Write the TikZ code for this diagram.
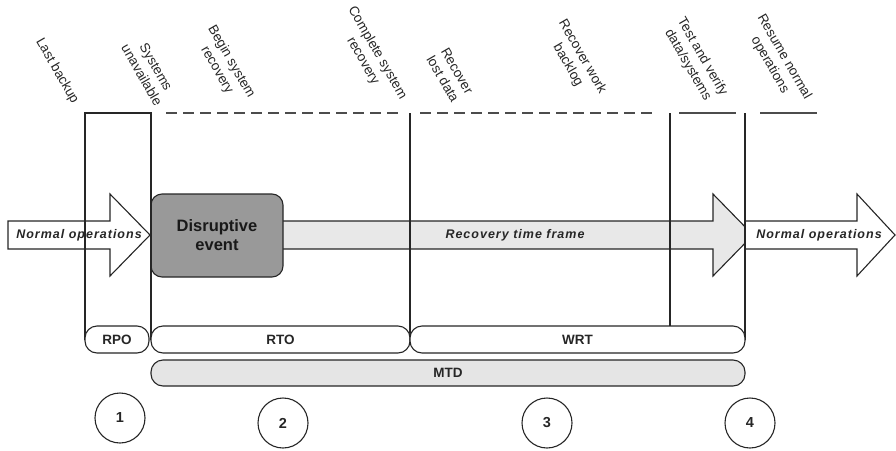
\documentclass[tikz,border=0pt]{standalone}
\usepackage{fontspec}
\setmainfont{Liberation Sans}
\newfontfamily\spaced[LetterSpace=8]{Liberation Sans}
\begin{document}
\begin{tikzpicture}[x=1pt,y=-1pt,
  ink/.style={draw=black!85,line width=1.1pt},
  flowarrow/.style={ink,line join=miter},
  milestone/.style={rotate=-60,align=center,text=black!85,
    font=\fontsize{13.5}{16.5}\selectfont},
  span/.style={ink,rounded corners=12pt,minimum height=27pt,inner sep=0pt,
    font=\fontsize{13.5}{14}\selectfont\bfseries,text=black!85},
  stepcircle/.style={ink,circle,minimum size=50pt,inner sep=0pt,
    font=\fontsize{14.5}{15}\selectfont\bfseries,text=black!85},
  phase/.style={draw=black!70,line width=1.8pt},
  phasedash/.style={phase,dash pattern=on 11pt off 6pt},
  flowtext/.style={font=\fontsize{12.5}{14}\selectfont\spaced\bfseries\itshape,text=black!85}]
\useasboundingbox (0,0) rectangle (896,450);

% flow arrows
\draw[flowarrow,fill=white] (8,221) -- (110,221) -- (110,194) -- (150,235)
  -- (110,276) -- (110,249) -- (8,249) -- cycle;
\draw[flowarrow,fill=black!9] (270,221) -- (713,221) -- (713,194) -- (753,235)
  -- (713,276) -- (713,249) -- (270,249) -- cycle;
\draw[flowarrow,fill=white] (745,221) -- (857,221) -- (857,194) -- (895,235)
  -- (857,276) -- (857,249) -- (745,249) -- cycle;
\node[flowtext] (normalL) at (79,235) {Normal operations};
\node[flowtext] (recovery) at (515,235) {Recovery time frame};
\node[flowtext] (normalR) at (819,235) {Normal operations};

% disruptive event
\node[ink,fill=black!40,rounded corners=11pt,minimum width=132pt,minimum height=83pt,
  inner sep=0pt,align=center,text=black!90,
  font=\fontsize{16.5}{19}\selectfont\bfseries] (event) at (217,235.5) {Disruptive\\event};

% time markers
\coordinate (m1) at (85,113);
\coordinate (m2) at (151,113);
\coordinate (m3) at (410,113);
\coordinate (m4) at (670,113);
\coordinate (m5) at (745,113);
\draw[ink] (85,340) -- (m1) -- (m2) -- (151,340);
\draw[ink] (m3) -- (410,340);
\draw[ink] (m4) -- (670,330);
\draw[ink] (m5) -- (745,340);
\draw[phasedash] (166,113) -- (398,113);
\draw[phasedash] (420,113) -- (655,113);
\draw[phase] (679,113) -- (736,113);
\draw[phase] (760,113) -- (817,113);

% milestone labels
\node[milestone] (lb) at (57,71) {Last backup};
\node[milestone] (su) at (149,71) {Systems\\unavailable};
\node[milestone] (bs) at (224,66) {Begin system\\recovery};
\node[milestone] (cs) at (370,57) {Complete system\\recovery};
\node[milestone] (rl) at (450,75) {Recover\\lost data};
\node[milestone] (rw) at (575,61) {Recover work\\backlog};
\node[milestone] (tv) at (695,61) {Test and verify\\data/systems};
\node[milestone] (rn) at (777,61) {Resume normal\\operations};

% spans
\node[span,fill=white,minimum width=64pt] (rpo) at (117,339.5) {RPO};
\node[span,fill=white,minimum width=259pt] (rto) at (280.5,339.5) {RTO};
\node[span,fill=white,minimum width=335pt] (wrt) at (577.5,339.5) {WRT};
\node[span,fill=black!10,minimum width=594pt,minimum height=26pt] (mtd) at (448,373) {MTD};

% phase numbers
\node[stepcircle] (c1) at (120,418) {1};
\node[stepcircle] (c2) at (283,423) {2};
\node[stepcircle] (c3) at (547,423) {3};
\node[stepcircle] (c4) at (750,423) {4};
\end{tikzpicture}
\end{document}
